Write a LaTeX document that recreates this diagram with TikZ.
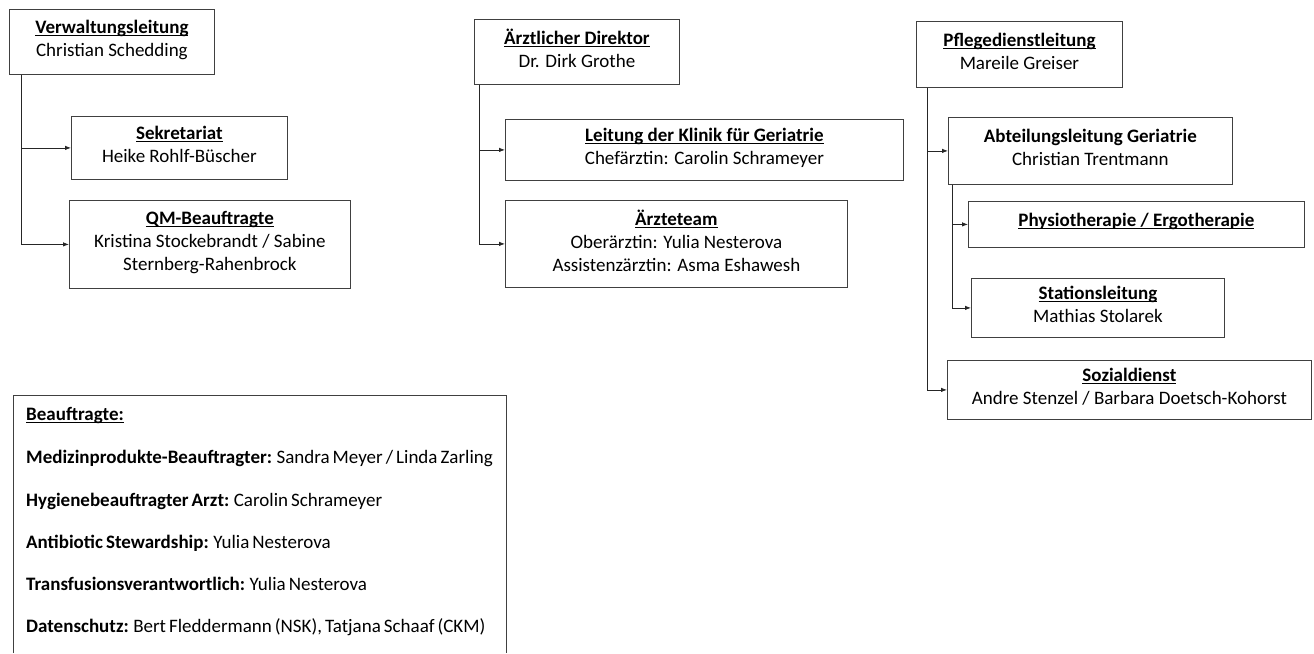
\documentclass[tikz,border=0pt]{standalone}
\usepackage{fontspec}
\setmainfont{Carlito}
\usetikzlibrary{arrows.meta}
\newcommand\ul[1]{\setbox0\hbox{\bfseries#1}\rlap{\rule[-2.4pt]{\wd0}{0.9pt}}\box0}
\newcommand\listfont{\fontsize{19}{22}\selectfont\spaceskip=0.16em plus 0.05em\relax}
\tikzset{
  orgbox/.style={draw=black!75, line width=0.8pt, anchor=north west, align=center,
    inner sep=0pt, text depth=7pt, font=\fontsize{19}{23}\selectfont},
  listline/.style={anchor=base west, inner sep=0pt, font=\listfont},
  link/.style={draw=black!85, line width=0.8pt, -{Latex[length=6pt,width=4.5pt]}}
}
\begin{document}
\begin{tikzpicture}[x=1pt,y=-1pt]
      \useasboundingbox (0,0) rectangle (1314,653);
      \path
        (9,9) node[orgbox, minimum width=205, minimum height=65] (verw)
          {\ul{Verwaltungsleitung}\\Christian Schedding}
        (71,116) node[orgbox, minimum width=216, minimum height=63] (sek)
          {\ul{Sekretariat}\\Heike Rohlf-Büscher}
        (69,200) node[orgbox, minimum width=281, minimum height=88] (qm)
          {\ul{QM-Beauftragte}\\Kristina Stockebrandt / Sabine\\Sternberg-Rahenbrock}
        (474,19) node[orgbox, minimum width=205, minimum height=65] (arzt)
          {\ul{Ärztlicher Direktor}\\Dr. Dirk Grothe}
        (505,119) node[orgbox, minimum width=398, minimum height=61] (klinik)
          {\ul{Leitung der Klinik für Geriatrie}\\Chefärztin: Carolin Schrameyer}
        (505,200) node[orgbox, minimum width=342, minimum height=87] (team)
          {\ul{Ärzteteam}\\Oberärztin: Yulia Nesterova\\Assistenzärztin: Asma Eshawesh}
        (916,21) node[orgbox, minimum width=206, minimum height=66] (pflege)
          {\ul{Pflegedienstleitung}\\Mareile Greiser}
        (948,117) node[orgbox, minimum width=284, minimum height=67] (abt)
          {\textbf{Abteilungsleitung Geriatrie}\\Christian Trentmann}
        (968,201) node[orgbox, minimum width=336, minimum height=46, text depth=9pt] (physio)
          {\ul{Physiotherapie / Ergotherapie}}
        (971,278) node[orgbox, minimum width=253, minimum height=59] (station)
          {\ul{Stationsleitung}\\Mathias Stolarek}
        (947,360) node[orgbox, minimum width=364, minimum height=59] (sozial)
          {\ul{Sozialdienst}\\Andre Stenzel / Barbara Doetsch-Kohorst};
      % Beauftragte (box open at the bottom)
      \draw[draw=black!75, line width=0.8pt] (13,653) |- (506,395) -- (506,653);
      \path
        (26,420) node[listline] (beauf) {\ul{Beauftragte:}}
        (26,463) node[listline] (mpg) {\textbf{Medizinprodukte-Beauftragter:} Sandra Meyer / Linda Zarling}
        (26,506) node[listline] (hyg) {\textbf{Hygienebeauftragter Arzt:} Carolin Schrameyer}
        (26,548) node[listline] (abs) {\textbf{Antibiotic Stewardship:} Yulia Nesterova}
        (26,590) node[listline] (trans) {\textbf{Transfusionsverantwortlich:} Yulia Nesterova}
        (26,632) node[listline] (daten) {\textbf{Datenschutz:} Bert Fleddermann (NSK), Tatjana Schaaf (CKM)};
      \coordinate (verwtrunk) at ([xshift=12pt]verw.south west);
      \coordinate (arzttrunk) at ([xshift=5pt]arzt.south west);
      \coordinate (pflegetrunk) at ([xshift=11pt]pflege.south west);
      \coordinate (abttrunk) at ([xshift=4pt]abt.south west);
      \begin{scope}[link]
        \draw (verwtrunk) |- (sek);
        \draw (verwtrunk) |- (qm);
        \draw (arzttrunk) |- (klinik);
        \draw (arzttrunk) |- (team);
        \draw (pflegetrunk) |- (abt);
        \draw (pflegetrunk) |- (sozial);
        \draw (abttrunk) |- (physio);
        \draw (abttrunk) |- (station);
      \end{scope}
    \end{tikzpicture}
\end{document}
